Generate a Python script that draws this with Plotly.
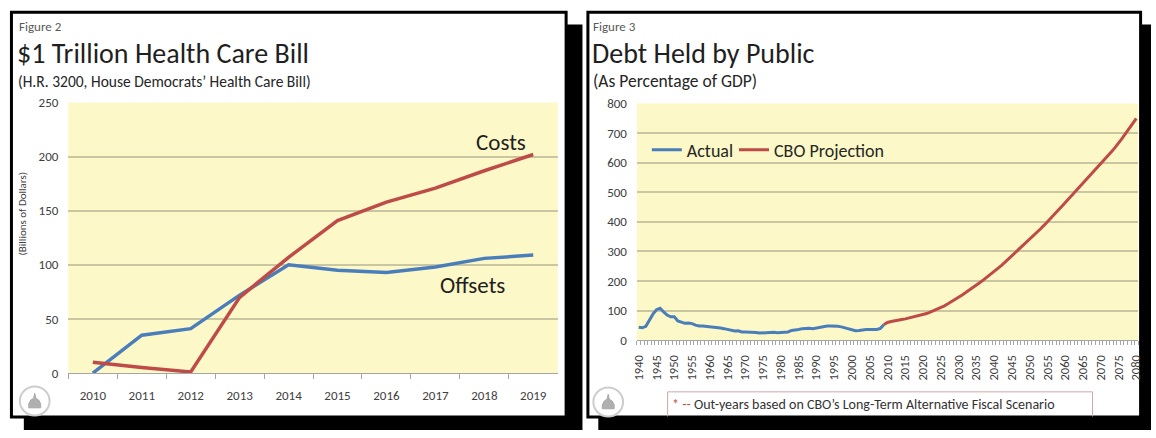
import plotly.graph_objects as go

W, H = 1156, 438


def px(x):
    return x / W


def py(y):
    return 1 - y / H


# ---------------- data ----------------
left_years = ["2010", "2011", "2012", "2013", "2014", "2015", "2016", "2017", "2018", "2019"]
costs = [10, 5, 1, 70, 107, 141, 158, 171, 187, 202]
offsets = [0, 35, 41, 72, 100, 95, 93, 98, 106, 109]

actual_years = list(range(1940, 2010))
actual = [44, 42, 47, 70, 88, 103, 108, 96, 85, 79,
          79, 65, 60, 57, 58, 56, 51, 48, 48, 47,
          45, 44, 42, 41, 39, 37, 34, 31, 32, 28,
          28, 28, 27, 26, 24, 25, 27, 27, 27, 25,
          26, 26, 28, 33, 34, 36, 39, 40, 40, 39,
          41, 44, 47, 48, 48, 48, 47, 45, 42, 39,
          34, 32, 33, 35, 36, 36, 36, 36, 40, 53]

proj_years = list(range(2009, 2081))
projection = [53,
              60, 63, 66, 68, 70, 72, 75, 78, 81, 83,
              86, 90, 95, 100, 105, 110, 116, 123, 130, 137,
              145, 153, 161, 169, 177, 186, 195, 204, 213, 222,
              232, 242, 252, 263, 274, 285, 296, 307, 318, 329,
              340, 352, 364, 376, 388, 400, 413, 426, 439, 452,
              465, 478, 491, 504, 517, 530, 543, 556, 569, 582,
              595, 609, 623, 637, 651, 665, 682, 699, 716, 733,
              750]

RED = "#BE4B48"
BLUE = "#4A7EBB"
GRID = "#CAC6A2"
AXIS = "#A6A6A6"
YELLOW = "#FCF8C8"
TXT = "#404040"
FONT = "Calibri, Carlito, Lato, sans-serif"

fig = go.Figure()

fig.add_trace(go.Scatter(x=left_years, y=offsets, mode="lines", name="Offsets",
                         line=dict(color=BLUE, width=3.5), xaxis="x", yaxis="y",
                         showlegend=False))
fig.add_trace(go.Scatter(x=left_years, y=costs, mode="lines", name="Costs",
                         line=dict(color=RED, width=3.5), xaxis="x", yaxis="y",
                         showlegend=False))
fig.add_trace(go.Scatter(x=actual_years, y=actual, mode="lines", name="Actual",
                         line=dict(color=BLUE, width=3), xaxis="x2", yaxis="y2",
                         legend="legend"))
fig.add_trace(go.Scatter(x=proj_years, y=projection, mode="lines", name="CBO Projection",
                         line=dict(color=RED, width=3), xaxis="x2", yaxis="y2",
                         legend="legend2"))

# ---------------- decorations ----------------
shapes = []


def rect(x0, y0, x1, y1, **kw):
    d = dict(type="rect", xref="paper", yref="paper",
             x0=px(x0), x1=px(x1), y0=py(y1), y1=py(y0), layer="below")
    d.update(kw)
    return d


# drop shadows
shapes.append(rect(18, 18, 582, 438, fillcolor="black", line=dict(width=0)))
shapes.append(rect(598, 18, 1156, 438, fillcolor="black", line=dict(width=0)))
# panels
shapes.append(rect(5.5, 5.5, 565.5, 424.5, fillcolor="white", line=dict(color="black", width=3)))
shapes.append(rect(587.5, 5.5, 1145.5, 424.5, fillcolor="white", line=dict(color="black", width=3)))
# plot backgrounds
for ax in ["", "2"]:
    shapes.append(dict(type="rect", xref=f"x{ax} domain", yref=f"y{ax} domain",
                       x0=0, x1=1, y0=0, y1=1, fillcolor=YELLOW,
                       line=dict(width=0), layer="below"))


def path(points):
    s = ""
    for i, (x, y) in enumerate(points):
        s += ("M" if i == 0 else "L") + f"{px(x):.5f},{py(y):.5f} "
    return s


# footnote box (cut by panel bottom)
shapes.append(dict(type="path", xref="paper", yref="paper",
                   path=path([(668, 424), (668, 398.5), (1097, 398.5), (1097, 424)]),
                   line=dict(color="#CFA7A5", width=1)))


# seals
def seal(cx, cy):
    r = 15
    out = [dict(type="circle", xref="paper", yref="paper",
                x0=px(cx - r), x1=px(cx + r), y0=py(cy + r), y1=py(cy - r),
                line=dict(color="#CDCDCD", width=2), fillcolor="white")]
    dome = [(cx - 6, cy + 7), (cx - 6, cy + 3), (cx - 4, cy - 1), (cx - 1, cy - 3),
            (cx, cy - 8), (cx + 1, cy - 3), (cx + 4, cy - 1), (cx + 6, cy + 3),
            (cx + 6, cy + 7)]
    out.append(dict(type="path", xref="paper", yref="paper", path=path(dome) + "Z",
                    fillcolor="#B0B0B0", line=dict(color="#A8A8A8", width=1)))
    return out


shapes += seal(29, 408)
shapes += seal(608, 409)

annotations = []


def text(x, y, s, size, color="#1F1F1F", xanchor="left", **kw):
    d = dict(x=px(x), y=py(y), xref="paper", yref="paper", text=s, showarrow=False,
             xanchor=xanchor, yanchor="middle", font=dict(family=FONT, size=size, color=color))
    d.update(kw)
    return d


annotations += [
    text(11, 20, "Figure 2", 13, "#595959"),
    text(9, 48, "$1 Trillion Health Care Bill", 28),
    text(10, 77, "(H.R. 3200, House Democrats\u2019 Health Care Bill)", 15.5, "#262626"),
    text(17, 214, "(Billions of Dollars)", 11, TXT, xanchor="center", textangle=-90),
    text(500, 140, "Costs", 23, "#1F1F1F", xanchor="center"),
    text(471, 288, "Offsets", 23, "#1F1F1F", xanchor="center"),
    text(591, 20, "Figure 3", 13, "#595959"),
    text(590, 48, "Debt Held by Public", 28),
    text(591, 77, "(As Percentage of GDP)", 17.5, "#262626"),
    text(670, 412, "<span style='color:#C0504D'>* --</span> Out-years based on CBO\u2019s Long-Term Alternative Fiscal Scenario",
         14, "#333333"),
]

tickfont = dict(family=FONT, size=13, color=TXT)
legend_common = dict(y=py(148), xanchor="left", yanchor="middle",
                     orientation="h", bgcolor="rgba(0,0,0,0)", itemwidth=30,
                     font=dict(family=FONT, size=18, color="#262626"))

fig.update_layout(
    width=W, height=H, autosize=False,
    margin=dict(l=0, r=0, t=0, b=0, pad=0),
    paper_bgcolor="white", plot_bgcolor="rgba(0,0,0,0)",
    font=dict(family=FONT, color=TXT),
    shapes=shapes, annotations=annotations,
    showlegend=True,
    legend=dict(x=px(647), **legend_common),
    legend2=dict(x=px(735), **legend_common),
    xaxis=dict(domain=[px(63), px(557)], type="category", anchor="y",
               range=[-0.5, 9.5],
               ticks="outside", tickson="boundaries", ticklen=5, tickcolor=AXIS,
               showline=True, linecolor=AXIS, linewidth=1, showgrid=False,
               tickfont=tickfont, ticklabelstandoff=10, fixedrange=True),
    yaxis=dict(domain=[py(379), py(99)], range=[0, 250], dtick=50, anchor="x",
               showgrid=True, gridcolor=GRID, gridwidth=1.5, zeroline=False,
               showline=False, ticks="", tickfont=tickfont, ticklabelstandoff=9,
               fixedrange=True),
    xaxis2=dict(domain=[px(637), px(1143)], range=[1939.5, 2080.5], anchor="y2",
                tickmode="linear", tick0=1940, dtick=5, tickangle=-90,
                ticks="", showline=True, linecolor=AXIS, linewidth=1, showgrid=False,
                minor=dict(ticks="outside", ticklen=4, dtick=1, tick0=1939.5,
                           tickcolor=AXIS, showgrid=False),
                tickfont=dict(family=FONT, size=12.5, color=TXT), ticklabelstandoff=9,
                fixedrange=True),
    yaxis2=dict(domain=[py(345), py(100)], range=[0, 800], dtick=100, anchor="x2",
                showgrid=True, gridcolor=GRID, gridwidth=1.5, zeroline=False,
                showline=False, ticks="", tickfont=tickfont, ticklabelstandoff=9,
                fixedrange=True),
)

fig.write_html("out.html")
